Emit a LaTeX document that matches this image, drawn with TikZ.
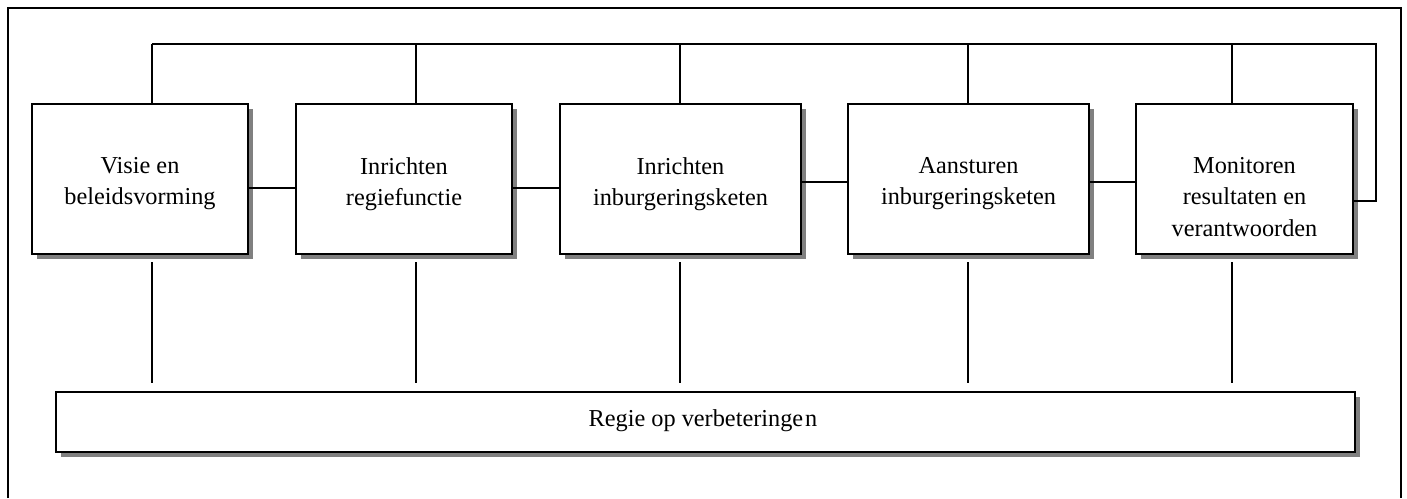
\documentclass[tikz,border=0pt]{standalone}
\usepackage{fontspec}
\setmainfont{Liberation Serif}
\usetikzlibrary{shadows}
\begin{document}
\begin{tikzpicture}[x=1pt,y=-1pt,
  box/.style={draw, line width=1.9pt, fill=white, rectangle, inner sep=0pt,
    general shadow={fill=black!50, shadow xshift=4.5pt, shadow yshift=-4.5pt}},
  lbl/.style={anchor=north, inner sep=0pt, align=center,
    font=\fontsize{24.3}{31.5}\selectfont},
  conn/.style={line width=1.6pt}]
\useasboundingbox (0,0) rectangle (1407,498);
% outer frame
\draw[conn] (8,498) -- (8,8) -- (1401,8) -- (1401,498);
% boxes
\node[box, minimum width=216pt, minimum height=150pt] (b1) at (140,179) {};
\node[box, minimum width=216pt, minimum height=150pt] (b2) at (404,179) {};
\node[box, minimum width=241pt, minimum height=150pt] (b3) at (680.5,179) {};
\node[box, minimum width=241pt, minimum height=150pt] (b4) at (968.5,179) {};
\node[box, minimum width=217pt, minimum height=150pt] (b5) at (1244.5,179) {};
\node[box, minimum width=1299pt, minimum height=60pt] (r) at (705.5,422) {};
% labels
\node[lbl] (l1) at (140,157) {Visie en\\beleidsvorming};
\node[lbl] (l2) at (404,157) {Inrichten\\regiefunctie};
\node[lbl] (l3) at (680.5,157) {Inrichten\\inburgeringsketen};
\node[lbl] (l4) at (968.5,157) {Aansturen\\inburgeringsketen};
\node[lbl] (l5) at (1244.5,157) {Monitoren\\resultaten en\\verantwoorden};
\node[lbl, anchor=center] (lr) at (703,421) {Regie op verbeteringe\hspace{2pt}n};
% top bus
\coordinate (t1) at (152,44);
\coordinate (t2) at (416,44);
\coordinate (t3) at (680,44);
\coordinate (t4) at (968,44);
\coordinate (t5) at (1232,44);
\coordinate (lp) at (1376,44);
\draw[conn] (t1) -- (lp) -- (lp |- 0,201) -- (b5.east |- 0,201);
\draw[conn] (t1) -- (t1 |- b1.north);
\draw[conn] (t2) -- (t2 |- b2.north);
\draw[conn] (t3) -- (t3 |- b3.north);
\draw[conn] (t4) -- (t4 |- b4.north);
\draw[conn] (t5) -- (t5 |- b5.north);
% horizontal links
\draw[conn] (b1.east |- 0,188) -- (b2.west |- 0,188);
\draw[conn] (b2.east |- 0,188) -- (b3.west |- 0,188);
\draw[conn] (b3.east |- 0,182) -- (b4.west |- 0,182);
\draw[conn] (b4.east |- 0,182) -- (b5.west |- 0,182);
% bottom stubs
\foreach \i/\x in {1/152,2/416,3/680,4/968,5/1232}{
  \coordinate (s\i a) at (\x,262);
  \coordinate (s\i b) at (\x,383);
  \draw[conn] (s\i a) -- (s\i b);
}
\end{tikzpicture}
\end{document}
